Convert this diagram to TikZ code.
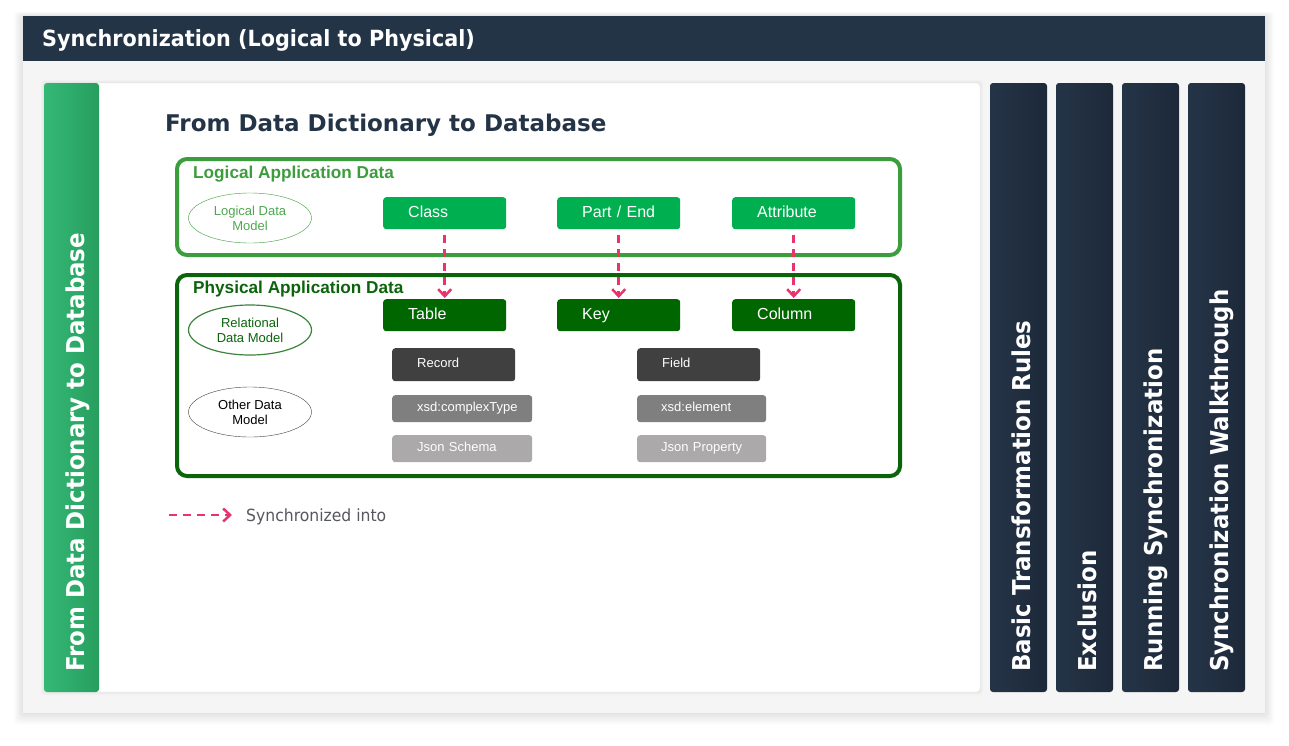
\documentclass[tikz,border=0pt]{standalone}
\usepackage{fontspec}
\setmainfont{Liberation Sans}
\newfontfamily\headfont{DejaVu Sans}
\newfontfamily\tabfont[FakeStretch=0.93]{DejaVu Sans}
\usetikzlibrary{arrows.meta, shapes.geometric}

\definecolor{navy}{HTML}{243447}
\definecolor{navydark}{HTML}{1D2939}
\definecolor{panelgray}{HTML}{F5F5F5}
\definecolor{tabgreen}{HTML}{34B876}
\definecolor{tabgreendark}{HTML}{279E5E}
\definecolor{logicgreen}{HTML}{3C9D3C}
\definecolor{physgreen}{HTML}{0B640B}
\definecolor{lightbox}{HTML}{00B050}
\definecolor{darkbox}{HTML}{006600}
\definecolor{recordgray}{HTML}{404040}
\definecolor{xsdgray}{HTML}{7F7F7F}
\definecolor{jsongray}{HTML}{ABA9A9}
\definecolor{syncpink}{HTML}{E8336D}
\definecolor{legendgray}{HTML}{56585E}

\begin{document}
\begin{tikzpicture}[x=1pt, y=-1pt,
    item/.style={anchor=north west, rounded corners=3pt, text=white, align=left, inner xsep=25pt, inner ysep=0pt},
    bigitem/.style={item, minimum height=32pt, text width=73pt, text height=11.5pt, text depth=3.5pt, font=\fontsize{16}{19}\selectfont},
    smallitem/.style={item, text height=9.5pt, text depth=3pt, font=\fontsize{13}{15}\selectfont},
    model/.style={ellipse, minimum width=123pt, minimum height=50pt, inner sep=0pt, align=center, font=\fontsize{13}{15}\selectfont},
    section/.style={anchor=base west, inner sep=0pt, font=\bfseries\fontsize{17.2}{20}\selectfont},
    sync/.style={draw=syncpink, line width=2.5pt, dash pattern=on 8pt off 6pt, -{Straight Barb[length=7pt, width=13pt]}},
    sidetab/.style={rounded corners=3pt, left color=navy, right color=navydark},
    tabtext/.style={anchor=base west, rotate=90, text=white, inner sep=0pt, font=\tabfont\bfseries\fontsize{24.6}{28}\selectfont}
]
\useasboundingbox (0,0) rectangle (1289,745);

% outer frame with soft shadow
\foreach \s in {1,...,9}
    \fill [black, opacity=0.012, rounded corners=4pt] (23-\s,16-0.5*\s) rectangle (1265+\s,713+1.3*\s);
\fill [panelgray] (23,16) rectangle (1265,713);
\fill [navy] (23,16) rectangle (1265,61);
\node (header) at (42,46) [anchor=base west, text=white, inner sep=0pt, font=\tabfont\bfseries\fontsize{22.3}{26}\selectfont] {Synchronization (Logical to Physical)};

% open tab
\foreach \s in {1,...,3}
    \fill [black, opacity=0.015, rounded corners=3pt] (44-\s,83-\s) rectangle (980+\s,692+\s);
\draw [fill=white, draw=black!12, rounded corners=3pt] (44,83) rectangle (980,692);
\shade [rounded corners=3pt, left color=tabgreen, right color=tabgreendark] (44,83) rectangle (99,692);
\node (opentab) at (84,672) [tabtext] {From Data Dictionary to Database};

% closed tabs
\foreach \x/\name [count=\i] in {990/Basic Transformation Rules, 1056/Exclusion, 1122/Running Synchronization, 1188/Synchronization Walkthrough} {
    \shade [sidetab] (\x,83) rectangle (\x+57,692);
    \node (tab\i) at (\x+40,672) [tabtext] {\name};
}

\node (title) at (165,131) [anchor=base west, inner sep=0pt, text=navy, font=\headfont\bfseries\fontsize{23}{27}\selectfont] {From Data Dictionary to Database};

% logical and physical frames
\draw [logicgreen, line width=4pt, rounded corners=10pt] (177,159) rectangle (900,255);
\draw [physgreen, line width=4pt, rounded corners=10pt] (177,275) rectangle (900,476);
\node (logicallabel) at (193,178) [section, text=logicgreen] {Logical Application Data};
\node (physicallabel) at (193,293) [section, text=physgreen] {Physical Application Data};

% data models
\node (logicalmodel) at (250,218) [model, draw=logicgreen, text=logicgreen!90!white] {Logical Data\\Model};
\node (relationalmodel) at (250,330) [model, draw=physgreen!80!white, line width=1.2pt, text=physgreen] {Relational\\Data Model};
\node (othermodel) at (250,412) [model, draw=black!75] {Other Data\\Model};

% logical items
\node (class) at (383,197) [bigitem, fill=lightbox] {Class};
\node (partend) at (557,197) [bigitem, fill=lightbox] {Part / End};
\node (attribute) at (732,197) [bigitem, fill=lightbox] {Attribute};

% physical items
\node (table) at (383,299) [bigitem, fill=darkbox] {Table};
\node (key) at (557,299) [bigitem, fill=darkbox] {Key};
\node (column) at (732,299) [bigitem, fill=darkbox] {Column};

\node (record) at (392,348) [smallitem, fill=recordgray, text width=73pt, minimum height=33pt] {Record};
\node (field) at (637,348) [smallitem, fill=recordgray, text width=73pt, minimum height=33pt] {Field};
\node (complextype) at (392,395) [smallitem, fill=xsdgray, text width=90pt, minimum height=27pt] {xsd:complexType};
\node (element) at (637,395) [smallitem, fill=xsdgray, text width=81pt, inner xsep=24pt, minimum height=27pt] {xsd:element};
\node (jsonschema) at (392,435) [smallitem, fill=jsongray, text width=90pt, minimum height=27pt] {Json Schema};
\node (jsonproperty) at (637,435) [smallitem, fill=jsongray, text width=81pt, inner xsep=24pt, minimum height=27pt] {Json Property};

% synchronized into
\draw [sync, shorten <=6pt, shorten >=1pt] (class) -- (table);
\draw [sync, shorten <=6pt, shorten >=1pt] (partend) -- (key);
\draw [sync, shorten <=6pt, shorten >=1pt] (attribute) -- (column);

% legend
\coordinate (legstart) at (169,515);
\coordinate (legend) at (232,515);
\draw [sync] (legstart) -- (legend);
\node (legtext) at (246,521) [anchor=base west, inner sep=0pt, text=legendgray, font=\tabfont\fontsize{16.8}{19}\selectfont] {Synchronized into};
\end{tikzpicture}
\end{document}
